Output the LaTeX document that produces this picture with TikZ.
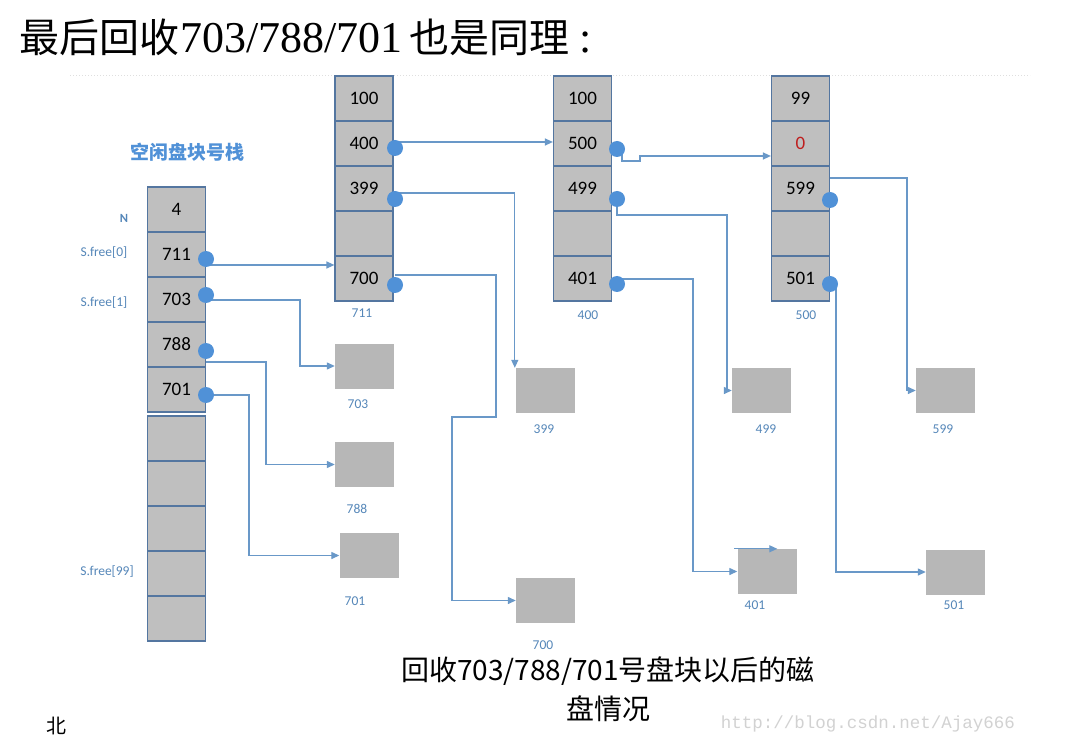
\documentclass[tikz,border=0pt]{standalone}
\usepackage{fontspec}
\setmainfont{Carlito}
\newfontfamily\cjk{Noto Sans CJK SC}
\newfontfamily\timesfont{Liberation Serif}
\newfontfamily\webfont{Liberation Mono}
\usetikzlibrary{arrows.meta}
\definecolor{cellgray}{RGB}{191,191,191}
\definecolor{blkgray}{RGB}{183,183,183}
\definecolor{cellline}{RGB}{84,118,160}
\definecolor{linkblue}{RGB}{105,152,200}
\definecolor{dotblue}{RGB}{80,145,215}
\definecolor{tagblue}{RGB}{85,135,185}
\definecolor{zerored}{RGB}{190,30,30}
\tikzset{
  cell/.style={draw=cellline, line width=1.2pt, fill=cellgray, minimum width=58pt,
    minimum height=45pt, inner sep=0pt, font=\fontsize{19}{19}\selectfont},
  blk/.style={fill=blkgray, minimum width=59pt, minimum height=45pt, inner sep=0pt},
  pin/.style={circle, fill=dotblue, minimum size=16pt, inner sep=0pt},
  link/.style={draw=linkblue, line width=1.3pt, -{Triangle[length=8pt,width=7pt]}},
  tag/.style={text=tagblue, font=\fontsize{13.5}{13.5}\selectfont},
}
\begin{document}
\begin{tikzpicture}[x=1pt,y=-1pt]
  \useasboundingbox[fill=white] (0,0) rectangle (1087,751);
  \draw[gray!25, dotted, line width=1pt] (70,76) -- (1030,76);

  \node[anchor=west, inner sep=0pt] (title) at (19,37)
    {{\cjk\fontsize{40}{40}\selectfont 最后回收}\hspace{1pt}{\timesfont\fontsize{44}{44}\selectfont 703/788/701}\hspace{7pt}{\cjk\fontsize{40}{40}\selectfont 也是同理}\hspace{10pt}{\timesfont\fontsize{44}{44}\selectfont :}};

  \node[text=dotblue, font=\cjk\bfseries\fontsize{19}{19}\selectfont] (stk) at (187,152) {空闲盘块号栈};
  \node[tag, font=\bfseries\fontsize{12.5}{12.5}\selectfont] (n) at (124,218) {N};
  \node[tag] (f0) at (104,253) {S.free[0]};
  \node[tag] (f1) at (104,303) {S.free[1]};
  \node[tag] (f99) at (107,572) {S.free[99]};

  \node[cell] (s0) at (176.5,209.5) {4};
  \node[cell] (s1) at (176.5,254.5) {711};
  \node[cell] (s2) at (176.5,299.5) {703};
  \node[cell] (s3) at (176.5,344.5) {788};
  \node[cell] (s4) at (176.5,389.5) {701};
  \foreach \i/\y in {5/438.5, 6/483.5, 7/528.5, 8/573.5, 9/618.5}
    \node[cell] (s\i) at (176.5,\y) {};

  \node[cell] (a0) at (364,98.5) {100};
  \node[cell] (a1) at (364,143.5) {400};
  \node[cell] (a2) at (364,188.5) {399};
  \node[cell] (a3) at (364,233.5) {};
  \node[cell] (a4) at (364,278.5) {700};
  \node[tag] (la) at (362,313) {711};

  \node[cell] (b0) at (582.5,98.5) {100};
  \node[cell] (b1) at (582.5,143.5) {500};
  \node[cell] (b2) at (582.5,188.5) {499};
  \node[cell] (b3) at (582.5,233.5) {};
  \node[cell] (b4) at (582.5,278.5) {401};
  \node[tag] (lb) at (588,315) {400};

  \node[cell] (c0) at (800.5,98.5) {99};
  \node[cell] (c1) at (800.5,143.5) {\textcolor{zerored}{0}};
  \node[cell] (c2) at (800.5,188.5) {599};
  \node[cell] (c3) at (800.5,233.5) {};
  \node[cell] (c4) at (800.5,278.5) {501};
  \node[tag] (lc) at (806,315) {500};

  \node[blk] (m703) at (364.5,366) {};
  \node[blk] (m788) at (364.5,464.5) {};
  \node[blk] (m701) at (369,555.5) {};
  \node[blk] (m399) at (545.5,390.5) {};
  \node[blk] (m700) at (545.5,600.5) {};
  \node[blk] (m499) at (761.5,390.5) {};
  \node[blk] (m401) at (767,571.5) {};
  \node[blk] (m599) at (945.5,390.5) {};
  \node[blk] (m501) at (955.5,572) {};
  \node[tag] (t703) at (358,404) {703};
  \node[tag] (t788) at (357,509) {788};
  \node[tag] (t701) at (355,601) {701};
  \node[tag] (t399) at (544,429) {399};
  \node[tag] (t700) at (543,645) {700};
  \node[tag] (t499) at (766,429) {499};
  \node[tag] (t401) at (755,605) {401};
  \node[tag] (t599) at (943,429) {599};
  \node[tag] (t501) at (954,605) {501};

  \coordinate (o1) at (206,265);
  \coordinate (o2) at (206,300);
  \coordinate (o3) at (206,362);
  \coordinate (o4) at (206,395);
  \coordinate (o5) at (395,142);
  \coordinate (o6) at (395,193);
  \coordinate (o7) at (395,275);
  \coordinate (o8) at (622,149);
  \coordinate (q8) at (640,156);
  \coordinate (o9) at (617,199);
  \coordinate (o10) at (617,279);
  \coordinate (o11) at (830,178);
  \coordinate (o12) at (836,284);
  \begin{scope}[link]
    \draw (o1) -- (o1 -| a4.west);
    \draw (o2) -- (300,300) |- (m703.west);
    \draw (o3) -- (266,362) |- (m788.west);
    \draw (o4) -- (249,395) |- (m701.west);
    \draw (o5) -- (o5 -| b1.west);
    \draw (o6) -| ([xshift=-1pt]m399.north west);
    \draw (o7) -- (496,275) -- (496,417) -- (452,417) |- (m700.west);
    \draw (o8) -- (622,161) -- (q8 |- 0,161) -- (q8) -- (q8 -| c1.west);
    \draw (o9) -- (617,215) -- (727,215) |- (m499.west);
    \draw (o10) -- (693,279) |- (m401.west);
    \draw (m401.north west) ++(-3,0) -- ++(43,0);
    \draw (o11) -- (907,178) |- (m599.west);
    \draw (o12) |- (m501.west);
  \end{scope}

  \node[pin] (d711) at (206,259) {};
  \node[pin] (d703) at (206,295) {};
  \node[pin] (d788) at (206,351) {};
  \node[pin] (d701) at (206,395) {};
  \node[pin] (d400) at (395,148) {};
  \node[pin] (d399) at (395,199) {};
  \node[pin] (d700) at (395,285) {};
  \node[pin] (d500) at (617,149) {};
  \node[pin] (d499) at (617,199) {};
  \node[pin] (d401) at (617,284) {};
  \node[pin] (d599) at (830,200) {};
  \node[pin] (d501) at (830,284) {};

  \node[font=\cjk\fontsize{28}{28}\selectfont] (cap1) at (608,671) {回收703/788/701号盘块以后的磁};
  \node[font=\cjk\fontsize{28}{28}\selectfont] (cap2) at (608,709) {盘情况};
  \node[font=\cjk\fontsize{20}{20}\selectfont] (bei) at (56,726) {北};
  \node[text=gray!35, font=\webfont\fontsize{17.5}{17.5}\selectfont] (url) at (868,724) {http://blog.csdn.net/Ajay666};
\end{tikzpicture}
\end{document}
